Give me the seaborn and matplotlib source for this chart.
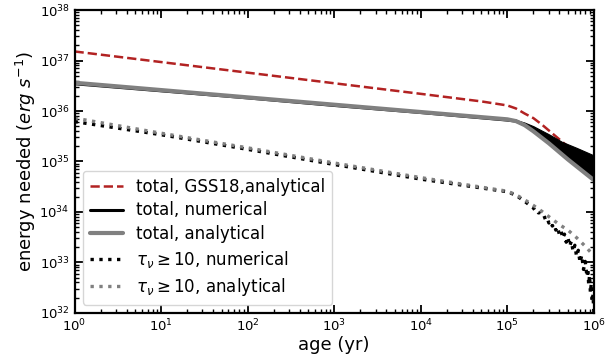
import numpy as np
import matplotlib
matplotlib.use("Agg")
import matplotlib.pyplot as plt
import seaborn as sns

# ---- data (values given as log10 of age in yr and log10 of energy in erg/s) ----
# total energy, GSS18 analytical estimate
gss_age_log = [0.0, 1.0, 2.0, 3.0, 4.0, 4.7, 5.0, 5.1, 5.2, 5.3, 5.4, 5.6, 5.8, 6.0]
gss_E_log = [37.18, 36.97, 36.76, 36.55, 36.34, 36.19, 36.11, 36.05, 35.95, 35.86,
             35.73, 35.44, 35.15, 34.86]

# total energy, numerical
num_age_log = [0.0, 1.0, 2.0, 3.0, 4.0, 5.0, 5.1, 5.3, 5.5, 5.7, 5.9, 6.0]
num_E_log = [36.54, 36.40, 36.26, 36.11, 35.97, 35.82, 35.80, 35.65, 35.42, 35.17,
             34.95, 34.85]
# spread of the numerical solution after the break
band_age_log = [5.05, 5.1, 5.2, 5.3, 5.4, 5.5, 5.63, 5.8, 6.0]
band_lo_log = [35.83, 35.80, 35.72, 35.60, 35.47, 35.33, 35.14, 34.90, 34.63]
band_hi_log = [35.84, 35.82, 35.77, 35.70, 35.61, 35.52, 35.39, 35.27, 35.12]

# total energy, analytical
ana_age_log = [0.0, 1.0, 2.0, 3.0, 4.0, 5.0, 5.1, 5.2, 5.3, 5.48, 5.7, 6.0]
ana_E_log = [36.56, 36.415, 36.27, 36.125, 35.98, 35.835, 35.80, 35.72, 35.60,
             35.36, 35.04, 34.63]

# optically thick part (tau >= 10), numerical
tau_num_age_log = [0.0, 1.0, 2.0, 3.0, 4.0, 5.0, 5.1, 5.2,
                   5.30, 5.32, 5.34, 5.36, 5.38, 5.40, 5.42, 5.44, 5.46, 5.48,
                   5.50, 5.52, 5.54, 5.56, 5.58, 5.60, 5.62, 5.64, 5.66, 5.68,
                   5.70, 5.72, 5.74, 5.76, 5.78, 5.80, 5.82, 5.84, 5.86, 5.88,
                   5.90, 5.92, 5.93, 5.94, 5.95, 5.96, 5.97, 5.98, 5.99, 6.00]
tau_num_E_log = [35.79, 35.53, 35.24, 34.94, 34.65, 34.40, 34.33, 34.21,
                 34.08, 34.03, 34.04, 33.98, 33.99, 33.93, 33.94, 33.85, 33.88, 33.78,
                 33.82, 33.72, 33.76, 33.64, 33.70, 33.56, 33.63, 33.48, 33.56, 33.40,
                 33.50, 33.32, 33.42, 33.22, 33.34, 33.12, 33.24, 33.00, 33.14, 32.86,
                 33.02, 32.72, 32.88, 32.56, 32.74, 32.40, 32.58, 32.22, 32.36, 32.00]

# optically thick part (tau >= 10), analytical
tau_ana_age_log = [0.0, 1.0, 2.0, 3.0, 4.0, 5.0, 5.1, 5.2, 5.3, 5.4, 5.5, 5.6,
                   5.7, 5.8, 5.9, 6.0]
tau_ana_E_log = [35.86, 35.56, 35.27, 34.97, 34.68, 34.41, 34.34, 34.24, 34.13,
                 34.01, 33.88, 33.75, 33.64, 33.49, 33.32, 33.13]

labels = ["total, GSS18,analytical", "total, numerical", "total, analytical",
          r"$\tau_{\nu} \geq 10$, numerical", r"$\tau_{\nu} \geq 10$, analytical"]


def lin(v):
    return 10.0 ** np.asarray(v, dtype=float)


sns.set_style("ticks")
plt.rcParams["font.family"] = ["DejaVu Sans"]
plt.rcParams["mathtext.fontset"] = "dejavusans"
for key in ("text.color", "axes.labelcolor", "xtick.color", "ytick.color",
            "axes.edgecolor"):
    plt.rcParams[key] = "black"

fig = plt.figure(figsize=(6.06, 3.6), dpi=100)
ax = fig.add_subplot(111)
fig.subplots_adjust(left=0.123, right=0.980, top=0.972, bottom=0.131)

red = "#b22222"
sns.lineplot(x=lin(gss_age_log), y=lin(gss_E_log), ax=ax, color=red,
             linestyle="--", lw=1.8, label=labels[0], sort=False)
ax.fill_between(lin(band_age_log), lin(band_lo_log), lin(band_hi_log),
                color="black", lw=0.8, zorder=2)
sns.lineplot(x=lin(num_age_log), y=lin(num_E_log), ax=ax, color="black",
             lw=2.2, label=labels[1], sort=False)
sns.lineplot(x=lin(ana_age_log), y=lin(ana_E_log), ax=ax, color="gray",
             lw=3.0, label=labels[2], sort=False)
sns.lineplot(x=lin(tau_num_age_log), y=lin(tau_num_E_log), ax=ax, color="black",
             linestyle=":", lw=2.4, label=labels[3], sort=False)
sns.lineplot(x=lin(tau_ana_age_log), y=lin(tau_ana_E_log), ax=ax, color="gray",
             linestyle=":", lw=2.4, label=labels[4], sort=False)

ax.set_xscale("log")
ax.set_yscale("log")
ax.set_xlim(1, 1e6)
ax.set_ylim(1e32, 1e38)
ax.yaxis.set_major_locator(matplotlib.ticker.LogLocator(base=10, numticks=20))
ax.yaxis.set_minor_locator(matplotlib.ticker.LogLocator(base=10, subs=np.arange(2, 10), numticks=20))
ax.xaxis.set_major_locator(matplotlib.ticker.LogLocator(base=10, numticks=20))
ax.xaxis.set_minor_locator(matplotlib.ticker.LogLocator(base=10, subs=np.arange(2, 10), numticks=20))

ax.set_xlabel("age (yr)", fontsize=13, labelpad=1)
ax.set_ylabel(r"energy needed ($erg\ s^{-1}$)", fontsize=13, labelpad=1)

ax.tick_params(which="both", direction="in", bottom=True, left=True,
               top=True, right=True, labelsize=9.5, colors="black")
ax.tick_params(which="major", length=6, width=1.3)
ax.tick_params(which="minor", length=3, width=1.0)
for sp in ax.spines.values():
    sp.set_linewidth(1.6)
    sp.set_color("black")
    sp.set_visible(True)

leg = ax.legend(loc="lower left", fontsize=12, frameon=True, handlelength=2.0,
                borderaxespad=0.5, labelspacing=0.35)
leg.get_frame().set_edgecolor("#cccccc")
for t in leg.get_texts():
    t.set_color("black")

fig.savefig("out.png", dpi=100)
